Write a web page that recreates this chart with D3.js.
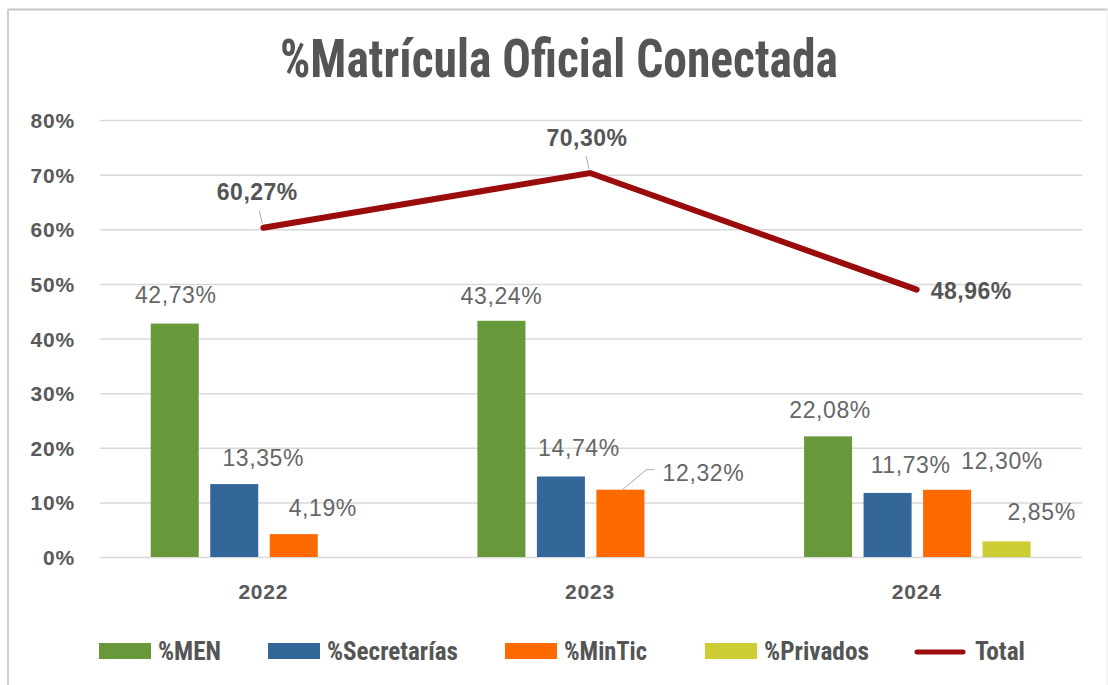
<!DOCTYPE html>
<html>
<head>
<meta charset="utf-8">
<script src="https://cdn.jsdelivr.net/npm/d3@7"></script>
<style>
  body { margin: 0; background: #fff; }
  svg { display: block; }
</style>
</head>
<body>
<div id="chart"></div>
<script>
// data
const years = ["2022", "2023", "2024"];
const seriesNames = ["%MEN", "%Secretarías", "%MinTic", "%Privados"];
const men = [42.73, 43.24, 22.08];
const secretarias = [13.35, 14.74, 11.73];
const mintic = [4.19, 12.32, 12.30];
const privados = [null, null, 2.85];
const total = [60.27, 70.30, 48.96];
const yTicks = [0, 10, 20, 30, 40, 50, 60, 70, 80];

const seriesValues = [men, secretarias, mintic, privados];
const seriesColors = ["#67993a", "#33679a", "#ff6a00", "#cccc33"];
const lineColor = "#9a0b0b";
const textColor = "#595959";

// label nudges, [series][year] -> [dx, dy] from bar top centre
const labelNudge = [
	[[1, -21], [0, -17], [2, -18]],
	[[29, -18], [18, -20], [23, -20]],
	[[29, -18], [83, -9], [55, -21]],
	[null, null, [35, -21]],
];
const totalNudge = [[-6, -28, "middle"], [-3, -27, "middle"], [14, 9, "start"]];

const width = 1108;
const height = 685;

const container = d3.select("#chart");
container.selectAll("*").remove();

const svg = container.append("svg").attr("width", width).attr("height", height);

// frame
svg.append("rect").attr("x", 0).attr("y", 0).attr("width", width).attr("height", height).attr("fill", "#fff");
svg.append("line").attr("x1", 8).attr("x2", width).attr("y1", 9.5).attr("y2", 9.5)
	.attr("stroke", "#c8c8c8").attr("stroke-width", 2);
svg.append("line").attr("x1", 8).attr("x2", 8).attr("y1", 9).attr("y2", height)
	.attr("stroke", "#d0d0d0").attr("stroke-width", 2);
svg.append("line").attr("x1", width - 1).attr("x2", width - 1).attr("y1", 9).attr("y2", height)
	.attr("stroke", "#eeeeee").attr("stroke-width", 1);

const condensed = "'Liberation Sans Narrow', 'Arial Narrow', 'Roboto Condensed', 'Liberation Sans', Arial, sans-serif";
const sans = "'Liberation Sans', Arial, sans-serif";

// title
svg.append("text")
	.attr("x", 559)
	.attr("y", 77)
	.attr("text-anchor", "middle")
	.attr("textLength", 558)
	.attr("lengthAdjust", "spacingAndGlyphs")
	.style("font-family", condensed)
	.style("font-weight", "700")
	.style("font-size", "54px")
	.style("fill", "#555")
	.text("%Matrícula Oficial Conectada");

// scales
const x0 = d3.scaleBand().domain(years).range([100, 1080]).padding(0);
const x1 = d3.scaleBand().domain(seriesNames).range([45, 283]).paddingInner(0.193).paddingOuter(0.0965);
const y = d3.scaleLinear().domain([0, 80]).range([557, 120]);

// y axis + gridlines
const yAxis = d3.axisLeft(y)
	.tickValues(yTicks)
	.tickSize(-982)
	.tickPadding(25)
	.tickFormat(d => d + "%");
const yAxisGroup = svg.append("g").attr("transform", "translate(100,0)").call(yAxis);
yAxisGroup.select(".domain").remove();
yAxisGroup.selectAll(".tick line").attr("stroke", "#d9d9d9").attr("stroke-width", 1.5);
yAxisGroup.selectAll(".tick text")
	.attr("dy", "0.36em")
	.style("font-family", sans)
	.style("font-weight", "700")
	.style("font-size", "21px")
	.style("letter-spacing", "0.8px")
	.style("fill", textColor);

// x axis
const xAxis = d3.axisBottom(x0).tickSize(0).tickPadding(27);
const xAxisGroup = svg.append("g").attr("transform", "translate(0,557)").call(xAxis);
xAxisGroup.select(".domain").remove();
xAxisGroup.selectAll(".tick text")
	.style("font-family", sans)
	.style("font-weight", "700")
	.style("font-size", "21px")
	.style("letter-spacing", "0.8px")
	.style("fill", textColor);

// bars
const barData = [];
seriesValues.forEach((vals, si) => {
	vals.forEach((v, yi) => {
		if (v != null) barData.push({ series: seriesNames[si], si, yi, year: years[yi], value: v });
	});
});

const fmt = v => v.toFixed(2).replace(".", ",") + "%";

svg.append("g")
	.selectAll("rect")
	.data(barData)
	.join("rect")
	.attr("x", d => x0(d.year) + x1(d.series))
	.attr("y", d => y(d.value))
	.attr("width", x1.bandwidth())
	.attr("height", d => y(0) - y(d.value))
	.attr("fill", d => seriesColors[d.si]);

// bar labels
svg.append("g")
	.selectAll("text")
	.data(barData)
	.join("text")
	.attr("x", d => x0(d.year) + x1(d.series) + x1.bandwidth() / 2 + labelNudge[d.si][d.yi][0])
	.attr("y", d => y(d.value) + labelNudge[d.si][d.yi][1])
	.attr("text-anchor", "middle")
	.style("font-family", sans)
	.style("font-size", "23px")
	.style("letter-spacing", "0.6px")
	.style("fill", "#666")
	.text(d => fmt(d.value));

// leader line for 12,32%
{
	const bx = x0(years[1]) + x1(seriesNames[2]) + x1.bandwidth() / 2;
	const by = y(mintic[1]);
	svg.append("path")
		.attr("d", `M${bx + 2},${by} L${bx + 26},${by - 20} L${bx + 34},${by - 20}`)
		.attr("fill", "none")
		.attr("stroke", "#aaa")
		.attr("stroke-width", 1);
}

// total line
const cx = yr => x0(yr) + x0.bandwidth() / 2;
const line = d3.line().x((d, i) => cx(years[i])).y(d => y(d));

svg.append("path")
	.datum(total)
	.attr("d", line)
	.attr("fill", "none")
	.attr("stroke", lineColor)
	.attr("stroke-width", 6)
	.attr("stroke-linecap", "round")
	.attr("stroke-linejoin", "miter");

// leader ticks for total labels
[0, 1].forEach(i => {
	const px = cx(years[i]);
	const py = y(total[i]);
	svg.append("line")
		.attr("x1", px - 1).attr("y1", py - 4)
		.attr("x2", px - 4).attr("y2", py - 17)
		.attr("stroke", "#aaa").attr("stroke-width", 1);
});

svg.append("g")
	.selectAll("text")
	.data(total)
	.join("text")
	.attr("x", (d, i) => cx(years[i]) + totalNudge[i][0])
	.attr("y", (d, i) => y(d) + totalNudge[i][1])
	.attr("text-anchor", (d, i) => totalNudge[i][2])
	.style("font-family", sans)
	.style("font-weight", "700")
	.style("font-size", "23px")
	.style("letter-spacing", "0.5px")
	.style("fill", "#555")
	.text(d => fmt(d));

// legend
const legendItems = [
	{ name: seriesNames[0], color: seriesColors[0], x: 99, tw: 63 },
	{ name: seriesNames[1], color: seriesColors[1], x: 268, tw: 131 },
	{ name: seriesNames[2], color: seriesColors[2], x: 505, tw: 83 },
	{ name: seriesNames[3], color: seriesColors[3], x: 705, tw: 105 },
	{ name: "Total", color: lineColor, x: 915, tw: 50, line: true },
];

const legend = svg.append("g");
legendItems.forEach(item => {
	if (item.line) {
		legend.append("line")
			.attr("x1", item.x + 2).attr("x2", item.x + 48)
			.attr("y1", 652).attr("y2", 652)
			.attr("stroke", item.color)
			.attr("stroke-width", 5)
			.attr("stroke-linecap", "round");
	} else {
		legend.append("rect")
			.attr("x", item.x).attr("y", 643)
			.attr("width", 52).attr("height", 16)
			.attr("fill", item.color);
	}
	legend.append("text")
		.attr("x", item.x + (item.line ? 60 : 59))
		.attr("y", 660)
		.attr("textLength", item.tw)
		.attr("lengthAdjust", "spacingAndGlyphs")
		.style("font-family", condensed)
		.style("font-weight", "700")
		.style("font-size", "25px")
		.style("fill", "#555")
		.text(item.name);
});
</script>
</body>
</html>
